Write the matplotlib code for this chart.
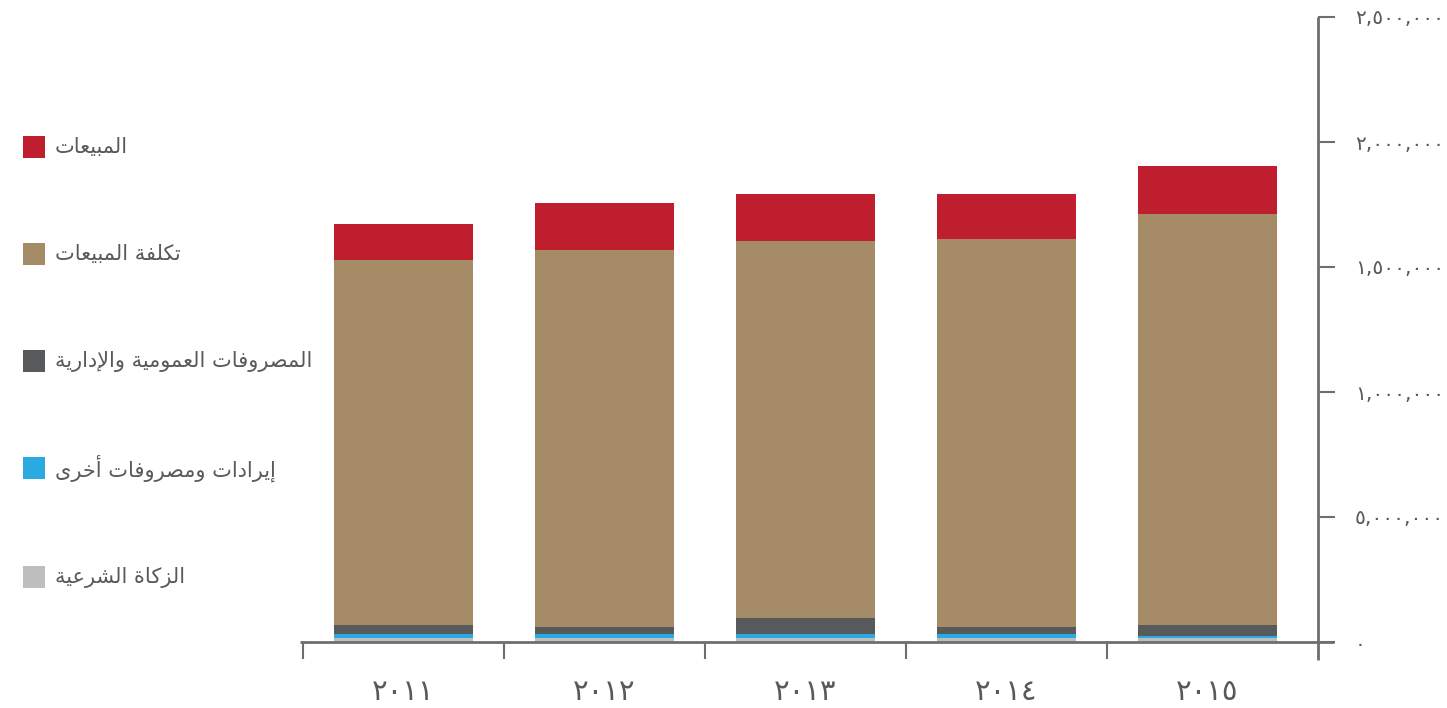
import matplotlib
matplotlib.use("Agg")
import matplotlib.pyplot as plt
from matplotlib.patches import Rectangle
import numpy as np

# ---------------- data ----------------
years = ["٢٠١١", "٢٠١٢", "٢٠١٣", "٢٠١٤", "٢٠١٥"]
zakat = [16000, 16000, 16000, 16000, 16000]
other_income = [16000, 16000, 16000, 16000, 8000]
admin_expenses = [36000, 28000, 64000, 28000, 44000]
cost_of_sales = [1460000, 1508000, 1508000, 1552000, 1644000]
sales = [144000, 188000, 188000, 180000, 192000]

series_names = ["الزكاة الشرعية", "إيرادات ومصروفات أخرى",
                "المصروفات العمومية والإدارية", "تكلفة المبيعات", "المبيعات"]
series_colors = ["#BCBEC0", "#29ABE2", "#58595B", "#A68B67", "#BE1E2D"]

ytick_values = [0, 500000, 1000000, 1500000, 2000000, 2500000]
ytick_labels = ["٠", "٥,٠٠٠,٠٠٠", "١,٠٠٠,٠٠٠", "١,٥٠٠,٠٠٠", "٢,٠٠٠,٠٠٠", "٢,٥٠٠,٠٠٠"]

# ------------- minimal Arabic shaper -------------
# forms: (isolated, final, initial, medial) ; None => right-joining only
FORMS = {
    'ا': ('\uFE8D', '\uFE8E', None, None),
    'أ': ('\uFE83', '\uFE84', None, None),
    'إ': ('\uFE87', '\uFE88', None, None),
    'ب': ('\uFE8F', '\uFE90', '\uFE91', '\uFE92'),
    'ة': ('\uFE93', '\uFE94', None, None),
    'ت': ('\uFE95', '\uFE96', '\uFE97', '\uFE98'),
    'خ': ('\uFEA5', '\uFEA6', '\uFEA7', '\uFEA8'),
    'د': ('\uFEA9', '\uFEAA', None, None),
    'ر': ('\uFEAD', '\uFEAE', None, None),
    'ز': ('\uFEAF', '\uFEB0', None, None),
    'ش': ('\uFEB5', '\uFEB6', '\uFEB7', '\uFEB8'),
    'ص': ('\uFEB9', '\uFEBA', '\uFEBB', '\uFEBC'),
    'ع': ('\uFEC9', '\uFECA', '\uFECB', '\uFECC'),
    'ف': ('\uFED1', '\uFED2', '\uFED3', '\uFED4'),
    'ك': ('\uFED9', '\uFEDA', '\uFEDB', '\uFEDC'),
    'ل': ('\uFEDD', '\uFEDE', '\uFEDF', '\uFEE0'),
    'م': ('\uFEE1', '\uFEE2', '\uFEE3', '\uFEE4'),
    'و': ('\uFEED', '\uFEEE', None, None),
    'ى': ('\uFEEF', '\uFEF0', None, None),
    'ي': ('\uFEF1', '\uFEF2', '\uFEF3', '\uFEF4'),
    'ـ': ('ـ', 'ـ', 'ـ', 'ـ'),
}
LAMALEF = {'ا': ('\uFEFB', '\uFEFC'), 'أ': ('\uFEF7', '\uFEF8'),
           'إ': ('\uFEF9', '\uFEFA')}


def dual(c):
    return c in FORMS and FORMS[c][2] is not None


def shape(text):
    ch = list(text)
    out = []
    i = 0
    while i < len(ch):
        c = ch[i]
        prev_join = i > 0 and dual(ch[i - 1])
        if c == 'ل' and i + 1 < len(ch) and ch[i + 1] in LAMALEF:
            iso, fin = LAMALEF[ch[i + 1]]
            out.append(fin if prev_join else iso)
            i += 2
            continue
        if c in FORMS:
            iso, fin, ini, med = FORMS[c]
            next_join = dual(c) and i + 1 < len(ch) and ch[i + 1] in FORMS
            if prev_join and next_join:
                out.append(med)
            elif prev_join:
                out.append(fin)
            elif next_join:
                out.append(ini)
            else:
                out.append(iso)
        else:
            out.append(c)
        i += 1
    return ''.join(out[::-1])


# ---------------- figure ----------------
plt.rcParams['font.family'] = ['DejaVu Sans']
TEXT = "#58595B"
AXC = "#6D6E71"

W, H = 1447, 708
fig = plt.figure(figsize=(W / 100, H / 100), dpi=100)
ax_l, ax_r, ax_t, ax_b = 300, 1318, 17, 642
ax = fig.add_axes([ax_l / W, 1 - ax_b / H, (ax_r - ax_l) / W, (ax_b - ax_t) / H])

x = np.arange(len(years))
stack = [zakat, other_income, admin_expenses, cost_of_sales, sales]
bottom = np.zeros(len(years))
for vals, col in zip(stack, series_colors):
    ax.bar(x, vals, width=0.69, bottom=bottom, color=col, linewidth=0, zorder=2)
    bottom += np.array(vals)

ax.set_ylim(0, 2500000)
ax.set_xlim(-0.515, 4.55)

for s in ax.spines.values():
    s.set_visible(False)

# axis lines
ax.plot([0, 1 + 16 / (ax_r - ax_l)], [0, 0], transform=ax.transAxes,
        color=AXC, lw=2, clip_on=False, zorder=3, solid_capstyle='butt')
ax.plot([1, 1], [-18 / (ax_b - ax_t), 1], transform=ax.transAxes,
        color=AXC, lw=2, clip_on=False, zorder=3, solid_capstyle='butt')

# y ticks on the right
ax.yaxis.tick_right()
ax.set_yticks(ytick_values)
ax.set_yticklabels(ytick_labels)
ax.tick_params(axis='y', direction='out', length=12.5, width=1.5, color=AXC,
               pad=14, labelsize=14.5, labelcolor=TEXT)
for lbl in ax.get_yticklabels():
    lbl.set_horizontalalignment('left')

# x ticks: labels at centers, tick marks at boundaries
ax.set_xticks(x)
ax.set_xticklabels(years)
ax.set_xticks(np.arange(len(years)) - 0.5, minor=True)
ax.tick_params(axis='x', which='major', length=0, pad=26, labelsize=21,
               labelcolor=TEXT)
ax.tick_params(axis='x', which='minor', direction='out', length=12.5,
               width=1.5, color=AXC)

# legend (top entry = top of stack)
leg_y = [147, 254, 361, 468, 577]
for name, col, yc in zip(series_names[::-1], series_colors[::-1], leg_y):
    fig.patches.append(Rectangle((23 / W, 1 - (yc + 11) / H), 22 / W, 22 / H,
                                 transform=fig.transFigure, color=col,
                                 linewidth=0))
    fig.text(55 / W, 1 - yc / H, shape(name), ha='left', va='center',
             fontsize=15, color=TEXT)

fig.savefig("out.png", dpi=100)
